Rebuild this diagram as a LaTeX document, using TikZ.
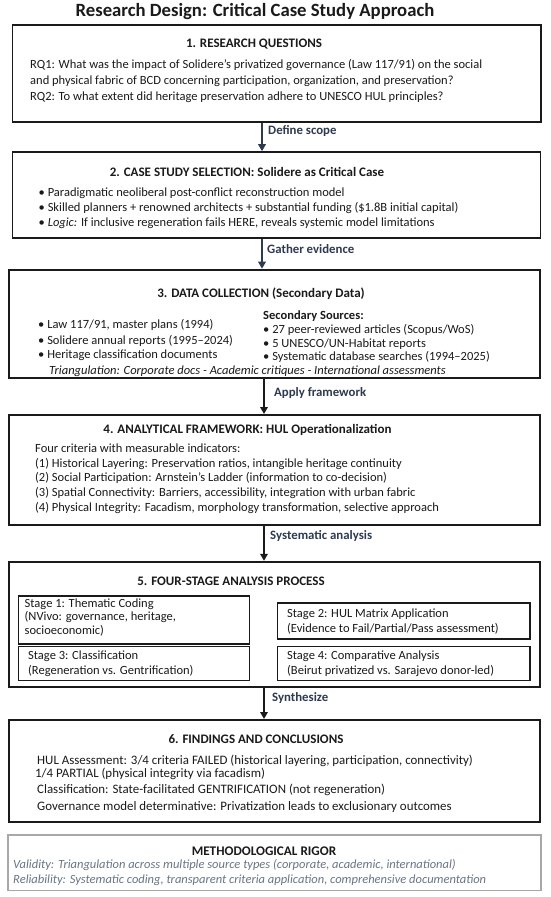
\documentclass[tikz,border=0pt]{standalone}
\usepackage{fontspec}
\setmainfont{Carlito}
\usetikzlibrary{arrows.meta}
\definecolor{ink}{HTML}{1A1A1A}
\definecolor{navy}{HTML}{2E3A50}
\definecolor{rigorgray}{HTML}{A8A8A8}
\definecolor{slate}{HTML}{6A7585}
\begin{document}
\begin{tikzpicture}[x=1pt,y=-1pt,
  mainbox/.style={draw=ink, line width=1.8pt, rectangle, anchor=north west, inner sep=0},
  stagebox/.style={draw=ink, line width=1.5pt, rectangle, anchor=north west, inner sep=0},
  rigorbox/.style={draw=rigorgray, line width=1.5pt, rectangle, anchor=north west, inner sep=0},
  txt/.style={anchor=base west, inner sep=0, font=\fontsize{12.5}{14}\selectfont, text=ink},
  txtb/.style={txt, font=\fontsize{12.9}{14}\selectfont},
  head/.style={anchor=base, inner sep=0, font=\fontsize{13}{15}\selectfont\bfseries, text=ink},
  rig/.style={anchor=base west, inner sep=0, font=\fontsize{12.5}{14}\selectfont\itshape, text=slate},
  arr/.style={draw=ink, line width=1.8pt, -{Triangle[width=7.5pt,length=7pt]}},
  navyarr/.style={arr, draw=navy},
  lbl/.style={anchor=base west, inner sep=0, font=\fontsize{12.8}{14}\selectfont\bfseries, text=navy},
]
\useasboundingbox[fill=white] (0,0) rectangle (550,897);

% title
\node[anchor=base, inner sep=0, font=\fontsize{18.7}{21}\selectfont\bfseries, text=ink] (title) at (255,16.2) {Research Design: Critical Case Study Approach};

% box 1
\node[mainbox, minimum width=528.5pt, minimum height=97pt] (b1) at (11.5,23.8) {};
\node[head] (h1) at (254,47.8) {1. RESEARCH QUESTIONS};
\node[txt] (t1a) at (30,68.6) {RQ1: What was the impact of Solidere's privatized governance (Law 117/91) on the social};
\node[txt] (t1b) at (30,84.6) {and physical fabric of BCD concerning participation, organization, and preservation?};
\node[txt] (t1c) at (30,100.9) {RQ2: To what extent did heritage preservation adhere to UNESCO HUL principles?};

% box 2
\node[mainbox, minimum width=528pt, minimum height=86pt] (b2) at (11.5,151.2) {};
\node[head] (h2) at (247,176) {2. CASE STUDY SELECTION: Solidere as Critical Case};
\node[txt] (t2a) at (38.5,196) {• Paradigmatic neoliberal post-conflict reconstruction model};
\node[txt] (t2b) at (38.5,211.6) {• Skilled planners + renowned architects + substantial funding (\$1.8B initial capital)};
\node[txt] (t2c) at (38.5,226) {• \textit{Logic:} If inclusive regeneration fails HERE, reveals systemic model limitations};

% box 3
\node[mainbox, minimum width=531.3pt, minimum height=108.3pt] (b3) at (7.7,268.7) {};
\node[head] (h3) at (261,297.5) {3. DATA COLLECTION (Secondary Data)};
\node[txt] (t3a) at (38,328) {• Law 117/91, master plans (1994)};
\node[txt] (t3b) at (38,344) {• Solidere annual reports (1995–2024)};
\node[txt] (t3c) at (38,358) {• Heritage classification documents};
\node[txt, font=\fontsize{12.5}{14}\selectfont\bfseries] (t3d) at (263,319) {Secondary Sources:};
\node[txt] (t3e) at (263,333) {• 27 peer-reviewed articles (Scopus/WoS)};
\node[txt] (t3f) at (263,347) {• 5 UNESCO/UN-Habitat reports};
\node[txt] (t3g) at (263,360) {• Systematic database searches (1994–2025)};
\node[txt, font=\fontsize{12.5}{14}\selectfont\itshape] (t3h) at (49,374) {Triangulation: Corporate docs - Academic critiques - International assessments};

% box 4
\node[mainbox, minimum width=531.3pt, minimum height=110pt] (b4) at (7.7,414) {};
\node[head] (h4) at (247.5,433.7) {4. ANALYTICAL FRAMEWORK: HUL Operationalization};
\node[txt] (t4a) at (35,452) {Four criteria with measurable indicators:};
\node[txt] (t4b) at (35,467) {(1) Historical Layering: Preservation ratios, intangible heritage continuity};
\node[txt] (t4c) at (35,481.5) {(2) Social Participation: Arnstein's Ladder (information to co-decision)};
\node[txt] (t4d) at (35,496.5) {(3) Spatial Connectivity: Barriers, accessibility, integration with urban fabric};
\node[txt] (t4e) at (35,511.5) {(4) Physical Integrity: Facadism, morphology transformation, selective approach};

% box 5
\node[mainbox, minimum width=531.3pt, minimum height=125.2pt] (b5) at (7.7,560.8) {};
\node[head] (h5) at (231,585.3) {5. FOUR-STAGE ANALYSIS PROCESS};
\node[stagebox, minimum width=231pt, minimum height=48pt] (s1) at (17.5,595) {};
\node[txt] (s1a) at (24.5,607) {Stage 1: Thematic Coding};
\node[txt] (s1b) at (24.5,620.5) {(NVivo: governance, heritage,};
\node[txt] (s1c) at (24.5,634) {socioeconomic)};
\node[stagebox, minimum width=231pt, minimum height=34pt] (s3) at (17.5,645.5) {};
\node[txt] (s3a) at (28,659) {Stage 3: Classification};
\node[txt] (s3b) at (28,674) {(Regeneration vs. Gentrification)};
\node[stagebox, minimum width=252.5pt, minimum height=36pt] (s2) at (276.5,602) {};
\node[txt] (s2a) at (287,617.5) {Stage 2: HUL Matrix Application};
\node[txt] (s2b) at (287,632.8) {(Evidence to Fail/Partial/Pass assessment)};
\node[stagebox, minimum width=252.5pt, minimum height=34pt] (s4) at (276.5,645.5) {};
\node[txt] (s4a) at (287,659.5) {Stage 4: Comparative Analysis};
\node[txt] (s4b) at (287,674) {(Beirut privatized vs. Sarajevo donor-led)};

% box 6
\node[mainbox, minimum width=531.3pt, minimum height=102.3pt] (b6) at (7.7,719) {};
\node[head] (h6) at (256,743.7) {6. FINDINGS AND CONCLUSIONS};
\node[txtb] (t6a) at (37,764) {HUL Assessment: 3/4 criteria FAILED (historical layering, participation, connectivity)};
\node[txtb] (t6b) at (35,777.5) {1/4 PARTIAL (physical integrity via facadism)};
\node[txtb] (t6c) at (37,793) {Classification: State-facilitated GENTRIFICATION (not regeneration)};
\node[txtb] (t6d) at (37,810) {Governance model determinative: Privatization leads to exclusionary outcomes};

% rigor box
\node[rigorbox, minimum width=533pt, minimum height=55.5pt] (b7) at (7,834) {};
\node[head, font=\fontsize{13.2}{15}\selectfont\bfseries] (h7) at (264,855) {METHODOLOGICAL RIGOR};
\node[rig] (t7a) at (13,868.5) {Validity: Triangulation across multiple source types (corporate, academic, international)};
\node[rig] (t7b) at (13,883.5) {Reliability: Systematic coding, transparent criteria application, comprehensive documentation};

% connectors
\coordinate (ax1) at (262,0);
\coordinate (ax2) at (264,0);
\draw[navyarr] (ax1 |- b1.south) -- (ax1 |- b2.north);
\draw[navyarr] (ax1 |- b2.south) -- (ax1 |- b3.north);
\draw[arr] (ax2 |- b3.south) -- (ax2 |- b4.north);
\draw[arr] (ax2 |- b4.south) -- (ax2 |- b5.north);
\draw[arr] (ax2 |- b5.south) -- (ax2 |- b6.north);
\node[lbl] (l1) at (268,134) {Define scope};
\node[lbl] (l2) at (267,253) {Gather evidence};
\node[lbl] (l3) at (274,396) {Apply framework};
\node[lbl] (l4) at (270,539.3) {Systematic analysis};
\node[lbl] (l5) at (272,701) {Synthesize};
\end{tikzpicture}
\end{document}
